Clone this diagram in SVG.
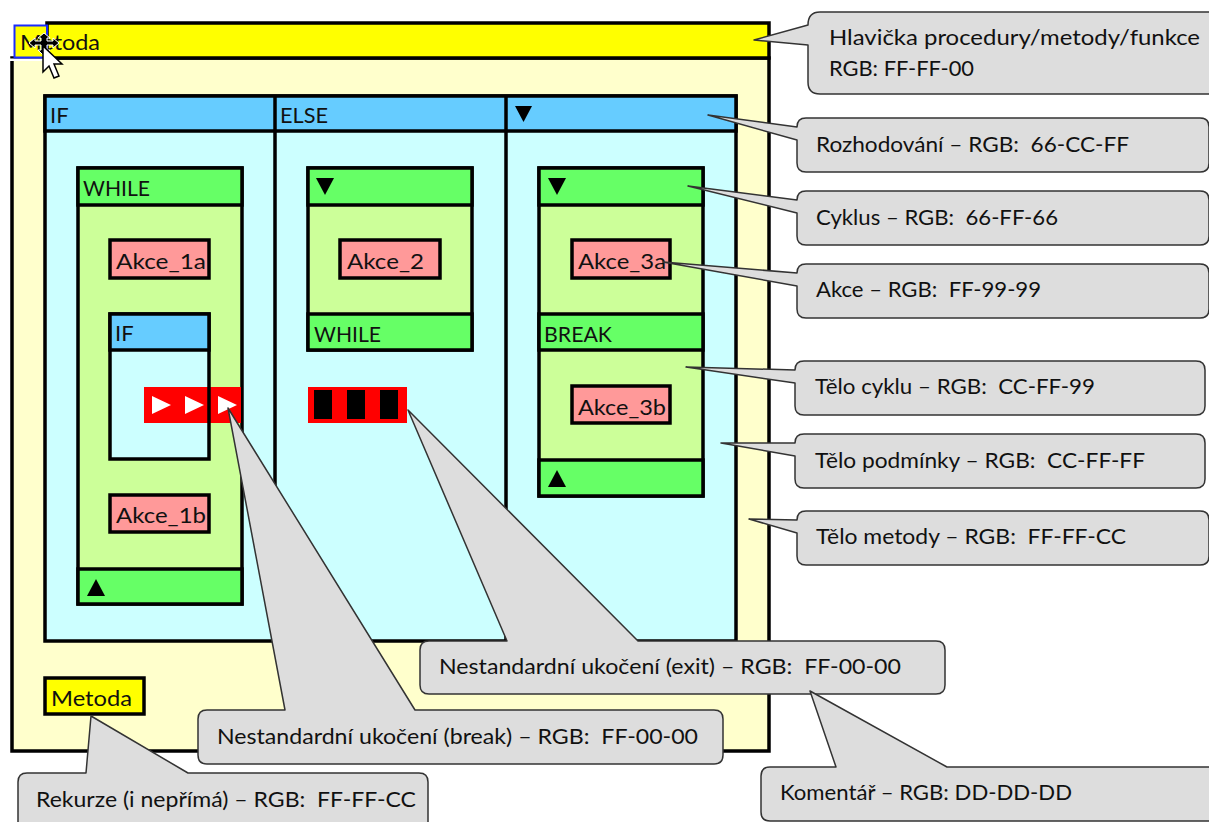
<svg xmlns="http://www.w3.org/2000/svg" width="1209" height="822" viewBox="0 0 1209 822">
<style>
text{font-family:"Lato","Carlito","Open Sans",sans-serif;font-size:22px;fill:#111;white-space:pre}
.b{stroke:#000;stroke-width:3.500}
.c{fill:#ddd;stroke:#333;stroke-width:1.500;stroke-linejoin:round}
.akce{fill:#ff9999}.cyk{fill:#66ff66}.tc{fill:#ccff99}.roz{fill:#66ccff}.tp{fill:#ccffff}.y{fill:#ffff00}.tm{fill:#ffffcc}
</style>
<rect width="1209" height="822" fill="#fff"/>
<g id="metoda">
<rect class="b tm" x="12" y="58" width="757" height="693"/>
<rect class="b y" x="47" y="23" width="722" height="35"/>
<rect x="9" y="58.500" width="40" height="2.500" fill="#fff"/>
<rect x="14.500" y="25.500" width="32.500" height="32" fill="#ffff00" stroke="#1a2bff" stroke-width="2"/>
<text x="20" y="50" textLength="80" lengthAdjust="spacingAndGlyphs">Metoda</text>
</g>
<g id="rozhodovani">
<rect class="b tp" x="45" y="96" width="691" height="545"/>
<rect class="b roz" x="45" y="96" width="691" height="35"/>
<path class="b" fill="none" d="M275 96V641M506 96V641"/>
<text x="50" y="123">IF</text>
<text x="280" y="123" textLength="48" lengthAdjust="spacingAndGlyphs">ELSE</text>
<path d="M515 106H532L523.500 122Z"/>
</g>
<g id="cyklus1">
<rect class="b tc" x="78" y="168" width="164" height="436"/>
<rect class="b cyk" x="78" y="168" width="164" height="37"/>
<rect class="b cyk" x="78" y="569" width="164" height="35"/>
<text x="83" y="196" textLength="67" lengthAdjust="spacingAndGlyphs">WHILE</text>
<path d="M87 596H105L96 579Z"/>
</g>
<g id="akce1a"><rect class="b akce" x="110" y="240" width="99" height="38"/><text x="116" y="269" textLength="90" lengthAdjust="spacingAndGlyphs">Akce_1a</text></g>
<g id="if2">
<rect class="b tp" x="110" y="314" width="99" height="145"/>
<rect class="b roz" x="110" y="314" width="99" height="36"/>
<text x="115" y="341">IF</text>
</g>
<g id="break">
<rect x="144" y="387" width="97" height="36" fill="#ff0000"/>
<path class="b" fill="none" d="M209 387V423"/>
<path fill="#fff" d="M152 396L171 405L152 414ZM185 396L204 405L185 414ZM218 396L237 405L218 414Z"/>
</g>
<g id="akce1b"><rect class="b akce" x="110" y="495" width="99" height="37"/><text x="116" y="523" textLength="90" lengthAdjust="spacingAndGlyphs">Akce_1b</text></g>
<g id="cyklus2">
<rect class="b tc" x="308" y="168" width="164" height="182"/>
<rect class="b cyk" x="308" y="168" width="164" height="37"/>
<rect class="b cyk" x="308" y="314" width="164" height="36"/>
<text x="314" y="342" textLength="67" lengthAdjust="spacingAndGlyphs">WHILE</text>
<path d="M316 178H334L325 195Z"/>
</g>
<g id="akce2"><rect class="b akce" x="340" y="240" width="100" height="38"/><text x="347" y="269" textLength="77" lengthAdjust="spacingAndGlyphs">Akce_2</text></g>
<g id="exit">
<rect x="308" y="387" width="99" height="36" fill="#ff0000"/>
<path d="M314 390H332V419H314ZM347 390H365V419H347ZM380 390H398V419H380Z"/>
</g>
<g id="cyklus3">
<rect class="b tc" x="539" y="168" width="164" height="328"/>
<rect class="b cyk" x="539" y="168" width="164" height="37"/>
<rect class="b cyk" x="539" y="314" width="164" height="36"/>
<rect class="b cyk" x="539" y="460" width="164" height="36"/>
<text x="544" y="342" textLength="68" lengthAdjust="spacingAndGlyphs">BREAK</text>
<path d="M548 178H566L557 195Z"/>
<path d="M548 487H566L557 470Z"/>
</g>
<g id="akce3a"><rect class="b akce" x="572" y="240" width="98" height="38"/><text x="578" y="269" textLength="88" lengthAdjust="spacingAndGlyphs">Akce_3a</text></g>
<g id="akce3b"><rect class="b akce" x="572" y="386" width="98" height="37"/><text x="578" y="415" textLength="88" lengthAdjust="spacingAndGlyphs">Akce_3b</text></g>
<g id="rekurze"><rect class="b y" x="45" y="678" width="99" height="36"/><text x="51" y="706" textLength="81" lengthAdjust="spacingAndGlyphs">Metoda</text></g>
<g id="kurzor">
<path d="M44 33L38 38H41V41H35V38L29 43L35 48V45H41V50H38L44 56L50 50H47V45H53V48L59 43L53 38V41H47V38H50Z" fill="#000" stroke="#fff" stroke-width="1"/>
<path d="M43 46V72L49 66L54 78L59 76L54 64H62Z" fill="#fff" stroke="#000" stroke-width="1.500"/>
</g>
<g id="komentare">
<g id="c-hlavicka"><path class="c" d="M820 12H1212V94H820Q808 94 808 82V45L754 40L808 25Q808 12 820 12Z"/><text x="829" y="45" textLength="371" lengthAdjust="spacingAndGlyphs">Hlavička procedury/metody/funkce</text><text x="829" y="76" textLength="145" lengthAdjust="spacingAndGlyphs">RGB: FF-FF-00</text></g>
<g id="c-rozhodovani"><path class="c" d="M806 118H1200Q1209 118 1209 127V163Q1209 172 1200 172H806Q797 172 797 163V140L708 115L797 127Q797 118 806 118Z"/><text x="816" y="152" textLength="313" lengthAdjust="spacingAndGlyphs">Rozhodování – RGB:  66-CC-FF</text></g>
<g id="c-cyklus"><path class="c" d="M806 191H1200Q1209 191 1209 200V236Q1209 245 1200 245H806Q797 245 797 236V213L688 186L797 200Q797 191 806 191Z"/><text x="816" y="225" textLength="242" lengthAdjust="spacingAndGlyphs">Cyklus – RGB:  66-FF-66</text></g>
<g id="c-akce"><path class="c" d="M806 264H1200Q1209 264 1209 273V309Q1209 318 1200 318H806Q797 318 797 309V286L663 262L797 273Q797 264 806 264Z"/><text x="816" y="297" textLength="225" lengthAdjust="spacingAndGlyphs">Akce – RGB:  FF-99-99</text></g>
<g id="c-telocyklu"><path class="c" d="M804 361H1196Q1205 361 1205 370V406Q1205 415 1196 415H804Q795 415 795 406V383L686 367L795 370Q795 361 804 361Z"/><text x="815" y="394" textLength="280" lengthAdjust="spacingAndGlyphs">Tělo cyklu – RGB:  CC-FF-99</text></g>
<g id="c-telopodminky"><path class="c" d="M804 434H1196Q1205 434 1205 443V479Q1205 488 1196 488H804Q795 488 795 479V456L721 443L795 443Q795 434 804 434Z"/><text x="815" y="468" textLength="330" lengthAdjust="spacingAndGlyphs">Tělo podmínky – RGB:  CC-FF-FF</text></g>
<g id="c-telometody"><path class="c" d="M806 511H1200Q1209 511 1209 520V556Q1209 565 1200 565H806Q797 565 797 556V533L749 519L797 520Q797 511 806 511Z"/><text x="816" y="544" textLength="310" lengthAdjust="spacingAndGlyphs">Tělo metody – RGB:  FF-FF-CC</text></g>
<g id="c-exit"><path class="c" d="M429 641H507L408 410L638 641H936Q945 641 945 650V685Q945 694 936 694H429Q420 694 420 685V650Q420 641 429 641Z"/><text x="439" y="674" textLength="462" lengthAdjust="spacingAndGlyphs">Nestandardní ukočení (exit) – RGB:  FF-00-00</text></g>
<g id="c-break"><path class="c" d="M207 710H285L228 408L415 710H714Q723 710 723 719V755Q723 764 714 764H207Q198 764 198 755V719Q198 710 207 710Z"/><text x="217" y="744" textLength="481" lengthAdjust="spacingAndGlyphs">Nestandardní ukočení (break) – RGB:  FF-00-00</text></g>
<g id="c-komentar"><path class="c" d="M770 767H836L810 691L947 767H1212V821H770Q761 821 761 812V776Q761 767 770 767Z"/><text x="780" y="800" textLength="292" lengthAdjust="spacingAndGlyphs">Komentář – RGB: DD-DD-DD</text></g>
<g id="c-rekurze"><path class="c" d="M27 773H86L91 716L188 773H419Q428 773 428 782V824H18V782Q18 773 27 773Z"/><text x="36" y="807" textLength="380" lengthAdjust="spacingAndGlyphs">Rekurze (i nepřímá) – RGB:  FF-FF-CC</text></g>
</g>
</svg>
